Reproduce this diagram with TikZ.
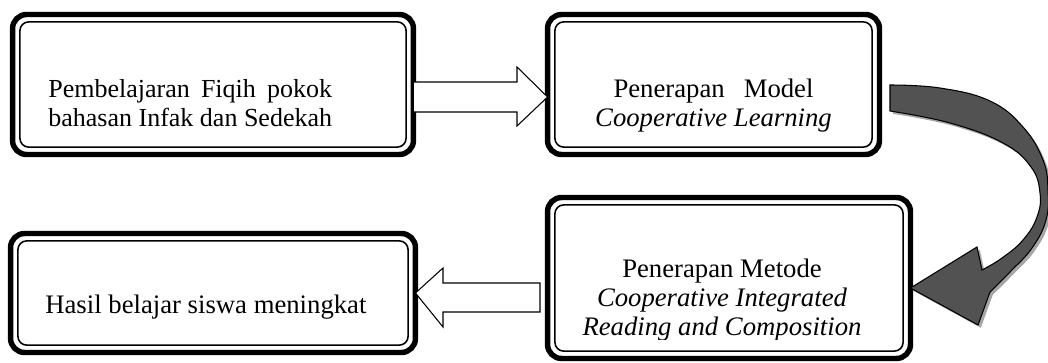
\documentclass[tikz,border=0pt]{standalone}
\usepackage{fontspec}
\setmainfont{Liberation Serif}
\usetikzlibrary{calc,shadows}
\tikzset{
  fbox/.style={draw,line width=3.1pt,rounded corners=8pt,fill=white,outer sep=0pt,inner sep=0pt},
  fin/.style={line width=0.9pt,rounded corners=5pt},
  ftext/.style={inner sep=0pt,font=\fontsize{15.2pt}{16.4pt}\selectfont},
  warr/.style={draw,line width=0.6pt,fill=white,line join=miter},
  carr/.style={draw=black,line width=0.6pt,fill=black!68,line join=miter,
    drop shadow={shadow xshift=1.6pt,shadow yshift=-1.6pt,opacity=0.35,fill=black}},
}

\begin{document}
\begin{tikzpicture}[x=0.02cm,y=-0.02cm]
\useasboundingbox (0,0) rectangle (1048,362);
%% four framed boxes, px units with y running down
\node[fbox,minimum width=8.02cm,minimum height=2.8cm] (b1) at (213,84.5) {};
\node[fbox,minimum width=6.64cm,minimum height=2.8cm] (b2) at (713.5,84.5) {};
\node[fbox,minimum width=7.26cm,minimum height=3.22cm] (b3) at (729,278) {};
\node[fbox,minimum width=8.1cm,minimum height=2.38cm] (b4) at (213,293) {};
% ---- block arrows between the boxes
\draw[warr] (b1.east |- 0,82) -- (517,82) -- (517,67) -- (b2.west |- 0,97)
  -- (517,126) -- (517,112) -- (b1.east |- 0,112) -- cycle;
\draw[warr] (540,283) -- (443,283) -- (443,268) -- (b4.east)
  -- (443,327) -- (443,312) -- (540,312) -- cycle;
% ---- curved arrow from box 2 down to box 3
\draw[carr] plot[smooth,tension=.7] coordinates {(890,85) (940,88) (990,101) (1023,127)
    (1043,160) (1048,190) (1046,220) (1032,248) (1010,272) (990,292)}
  -- (978,325) -- (b3.east |- 0,288) -- (977,247) -- (982,270)
  -- plot[smooth,tension=.7] coordinates {(982,270) (1002,258) (1023,240) (1037,217)
    (1040,193) (1031,167) (1003,143) (950,123) (890,111)} -- cycle;
% inner thin frames
\foreach \b in {b1,b2,b3,b4}{
  \draw[fin] ([shift={(4.2pt,4.2pt)}]\b.south west) rectangle ([shift={(-4.2pt,-4.2pt)}]\b.north east);}
% ---- texts (first line of box 1 and of box 2 are justified)
\node[ftext,anchor=north west,align=left,font=\fontsize{14.8pt}{16.4pt}\selectfont] (t1) at (48,79.2)
  {\global\setbox1\hbox{bahasan Infak dan Sedekah}\makebox[\wd1][s]{Pembelajaran Fiqih pokok}\\\box1};
\node[ftext,anchor=north,align=center] (t2) at (713.5,78.7)
  {\makebox[4cm][s]{Penerapan Model}\\\textit{Cooperative Learning}};
\begin{scope}
  \clip (545,195) rectangle (913,339);
  \node[ftext,anchor=north,align=center] (t3) at (722,258.7)
    {Penerapan Metode\\\textit{Cooperative Integrated}\\\textit{Reading and Composition}};
\end{scope}
\node[ftext,anchor=base west] (t4) at (45,313) {Hasil belajar siswa meningkat};
\end{tikzpicture}
\end{document}
